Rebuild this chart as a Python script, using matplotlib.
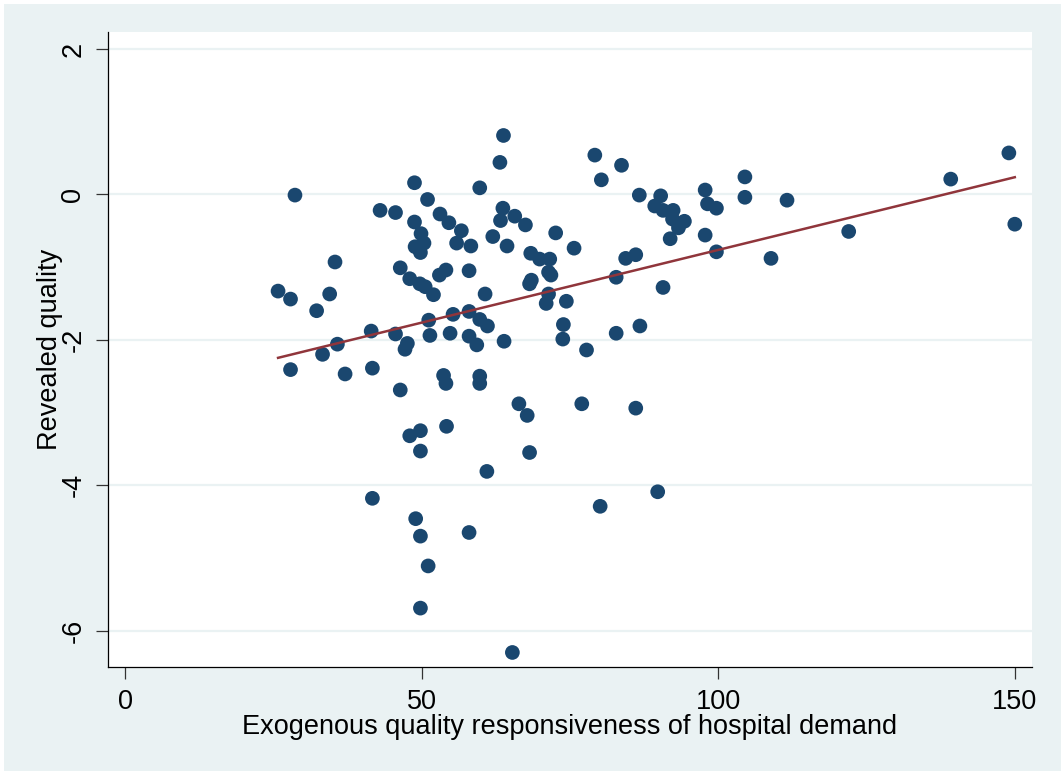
import matplotlib
matplotlib.use('Agg')
import matplotlib.pyplot as plt
from matplotlib.patches import Rectangle
import numpy as np

# demand responsiveness (x) and revealed quality (y)
x_vals = [63.8, 63.2, 28.65, 48.8, 59.8, 51.0, 43.0, 45.6, 48.8, 53.1,
          54.6, 56.7, 63.7, 63.3, 65.7, 67.5, 49.9, 50.4, 48.9, 49.8,
          55.9, 58.3, 62.0, 64.4, 35.4, 46.4, 48.0, 49.7, 50.6, 52.0,
          53.0, 54.1, 58.0, 60.7, 68.4, 69.9, 68.5, 68.2, 71.4, 71.8,
          71.0, 25.8, 27.9, 34.5, 32.3, 51.2, 55.3, 58.0, 59.8, 61.1,
          41.5, 45.6, 51.4, 54.8, 58.0, 59.3, 63.9, 35.8, 33.3, 47.6,
          47.2, 27.9, 79.2, 83.7, 80.3, 104.5, 86.7, 90.3, 97.8, 104.5,
          89.3, 90.7, 92.4, 92.3, 94.3, 93.3, 98.2, 99.7, 91.9, 97.8,
          99.7, 72.6, 75.7, 71.6, 71.4, 74.4, 84.4, 86.1, 82.8, 90.7,
          73.9, 73.8, 77.8, 82.8, 86.8, 149.0, 139.2, 150.0, 122.0, 111.6,
          108.9, 37.1, 41.7, 46.4, 53.7, 54.1, 59.8, 59.8, 66.4, 67.8,
          77.0, 86.1, 48.0, 49.8, 54.2, 49.8, 68.2, 61.0, 41.7, 80.1,
          49.0, 49.8, 58.0, 51.1, 49.8, 65.3, 89.8]
y_vals = [0.81, 0.44, -0.01, 0.16, 0.09, -0.07, -0.22, -0.25, -0.38, -0.27,
          -0.39, -0.50, -0.19, -0.36, -0.30, -0.42, -0.54, -0.67, -0.72, -0.80,
          -0.67, -0.71, -0.58, -0.71, -0.93, -1.01, -1.16, -1.23, -1.27, -1.38,
          -1.11, -1.04, -1.05, -1.37, -0.81, -0.89, -1.18, -1.23, -1.07, -1.11,
          -1.50, -1.33, -1.44, -1.37, -1.60, -1.73, -1.65, -1.61, -1.72, -1.81,
          -1.88, -1.92, -1.94, -1.91, -1.95, -2.07, -2.02, -2.06, -2.20, -2.05,
          -2.13, -2.41, 0.54, 0.40, 0.20, 0.24, -0.01, -0.02, 0.06, -0.04,
          -0.16, -0.22, -0.22, -0.34, -0.37, -0.46, -0.13, -0.19, -0.61, -0.56,
          -0.79, -0.53, -0.74, -0.89, -1.37, -1.47, -0.88, -0.83, -1.14, -1.28,
          -1.79, -1.99, -2.14, -1.91, -1.81, 0.57, 0.21, -0.41, -0.51, -0.08,
          -0.88, -2.47, -2.39, -2.69, -2.49, -2.60, -2.50, -2.60, -2.88, -3.04,
          -2.88, -2.94, -3.32, -3.25, -3.19, -3.53, -3.55, -3.81, -4.18, -4.29,
          -4.46, -4.70, -4.65, -5.11, -5.69, -6.30, -4.09]

# linear fit as drawn in the reference
fit_intercept = -2.764
fit_slope = 0.0200

x_ticks = [0, 50, 100, 150]
y_ticks = [-6, -4, -2, 0, 2]

plt.rcParams['font.family'] = ['Liberation Sans', 'DejaVu Sans']
plt.rcParams['axes.unicode_minus'] = False

bg = '#EAF2F3'
fig = plt.figure(figsize=(10.61, 7.71), dpi=100, facecolor='white')
# light outer background, thin white strip at top and left
fig.add_artist(Rectangle((4 / 1061, 0), 1, 1 - 4 / 771, transform=fig.transFigure,
                         facecolor=bg, edgecolor='none', zorder=-10))

ax = fig.add_axes([108 / 1061, (771 - 667.3) / 771, 924 / 1061, 635 / 771])
ax.set_zorder(1)
ax.set_facecolor('white')

for yt in y_ticks:
    ax.axhline(yt, color=bg, linewidth=1.6, zorder=1)

ax.scatter(x_vals, y_vals, s=112, color='#1a476f', edgecolors='none', zorder=3)

fx = np.array([min(x_vals), max(x_vals)])
ax.plot(fx, fit_intercept + fit_slope * fx, color='#90353b', linewidth=1.8, zorder=4)

ax.set_xlim(-2.87, 152.9)
ax.set_ylim(-6.504, 2.229)
ax.set_xticks(x_ticks)
ax.set_yticks(y_ticks)

for side in ['top', 'right']:
    ax.spines[side].set_visible(False)
for side in ['left', 'bottom']:
    ax.spines[side].set_linewidth(0.9)
    ax.spines[side].set_color('black')

ax.tick_params(axis='both', length=8.5, width=0.9, color='#333333', labelsize=19.5, pad=7)
for lab in ax.get_yticklabels():
    lab.set_rotation(90)
    lab.set_va('center')

ax.set_xlabel('Exogenous quality responsiveness of hospital demand', fontsize=19.5)
ax.set_ylabel('Revealed quality', fontsize=19.5)
ax.xaxis.set_label_coords(0.5, (667.3 - 727) / 635)
ax.xaxis.label.set_va('center')
ax.yaxis.set_label_coords((50 - 108) / 924, 0.5)
ax.yaxis.label.set_va('center')

fig.savefig('out.png', dpi=100, facecolor=fig.get_facecolor())
